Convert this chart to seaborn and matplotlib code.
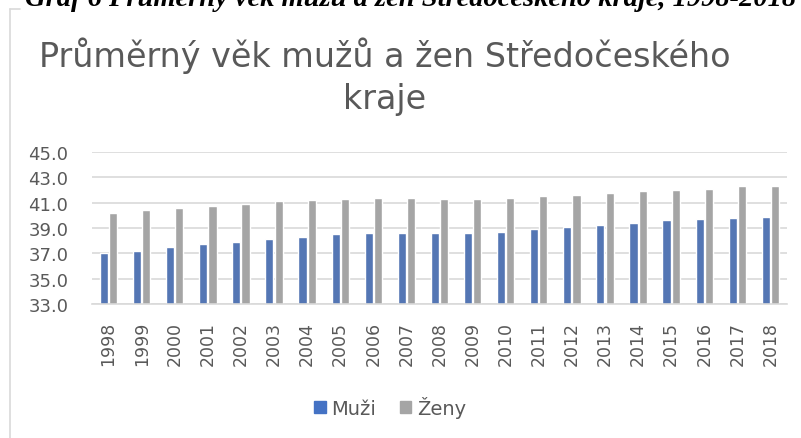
import seaborn as sns
import pandas as pd
import matplotlib.pyplot as plt
from matplotlib.lines import Line2D

years = [str(y) for y in range(1998, 2019)]
muzi = [37.0, 37.2, 37.5, 37.7, 37.9, 38.1, 38.3, 38.5, 38.6, 38.6, 38.6,
        38.6, 38.7, 38.9, 39.1, 39.2, 39.4, 39.6, 39.7, 39.8, 39.9]
zeny = [40.2, 40.4, 40.6, 40.7, 40.9, 41.1, 41.2, 41.3, 41.4, 41.4, 41.3,
        41.3, 41.4, 41.5, 41.6, 41.8, 41.9, 42.0, 42.1, 42.3, 42.3]

df = pd.DataFrame({"Rok": years * 2,
                   "Věk": muzi + zeny,
                   "Pohlaví": ["Muži"] * len(years) + ["Ženy"] * len(years)})

sns.set_theme(style="white")
plt.rcParams['font.family'] = ['DejaVu Sans']
txt = "#595959"

fig = plt.figure(figsize=(8.01, 4.39), dpi=100)
ax = fig.add_axes([92 / 801, 1 - 305 / 439, (787 - 92) / 801, (305 - 153) / 439])

sns.barplot(df, x="Rok", y="Věk", hue="Pohlaví", ax=ax,
            palette=["#4472C4", "#A5A5A5"], width=0.56, gap=0.12,
            legend=False)

ax.set_ylim(33, 45)
ax.set_yticks(range(33, 46, 2))
ax.set_yticklabels([f"{v:.1f}" for v in range(33, 46, 2)])
ax.yaxis.grid(True, color="#D9D9D9", lw=1.2)
ax.set_axisbelow(True)
for s in ["top", "right", "left"]:
    ax.spines[s].set_visible(False)
ax.spines["bottom"].set_color("#D9D9D9")
ax.spines["bottom"].set_linewidth(1.2)
ax.tick_params(axis="x", rotation=90, labelsize=12.5, colors=txt, length=0, pad=12)
ax.tick_params(axis="y", labelsize=13, colors=txt, length=0, pad=17)
ax.set_xlabel("")
ax.set_ylabel("")

fig.text(385 / 801, 1 - 56 / 439, "Průměrný věk mužů a žen Středočeského",
         ha="center", va="center", fontsize=24, color=txt)
fig.text(385 / 801, 1 - 100 / 439, "kraje",
         ha="center", va="center", fontsize=24, color=txt)

# cropped caption above the chart
fig.text(25 / 801, 1 - 6 / 439,
         "Graf 6 Průměrný věk mužů a žen Středočeského kraje, 1998-2018",
         ha="left", va="baseline", fontsize=20.5, color="black",
         family="Liberation Serif", weight="bold", style="italic")

# chart area border
fig.add_artist(Line2D([9.5 / 801, 9.5 / 801], [0, 1 - 10 / 439],
                      transform=fig.transFigure, color="#D9D9D9", lw=1.2))
fig.add_artist(Line2D([9.5 / 801, 20 / 801], [1 - 10 / 439, 1 - 10 / 439],
                      transform=fig.transFigure, color="#D9D9D9", lw=1.2))

handles = [plt.Rectangle((0, 0), 1, 1, color="#4472C4"),
           plt.Rectangle((0, 0), 1, 1, color="#A5A5A5")]
fig.legend(handles, ["Muži", "Ženy"], loc="center", ncol=2,
           bbox_to_anchor=(390 / 801, 1 - 408 / 439), frameon=False,
           fontsize=14, labelcolor=txt, handlelength=0.6, handleheight=0.6,
           handletextpad=0.3, columnspacing=1.2)

fig.savefig("out.png", dpi=100)
